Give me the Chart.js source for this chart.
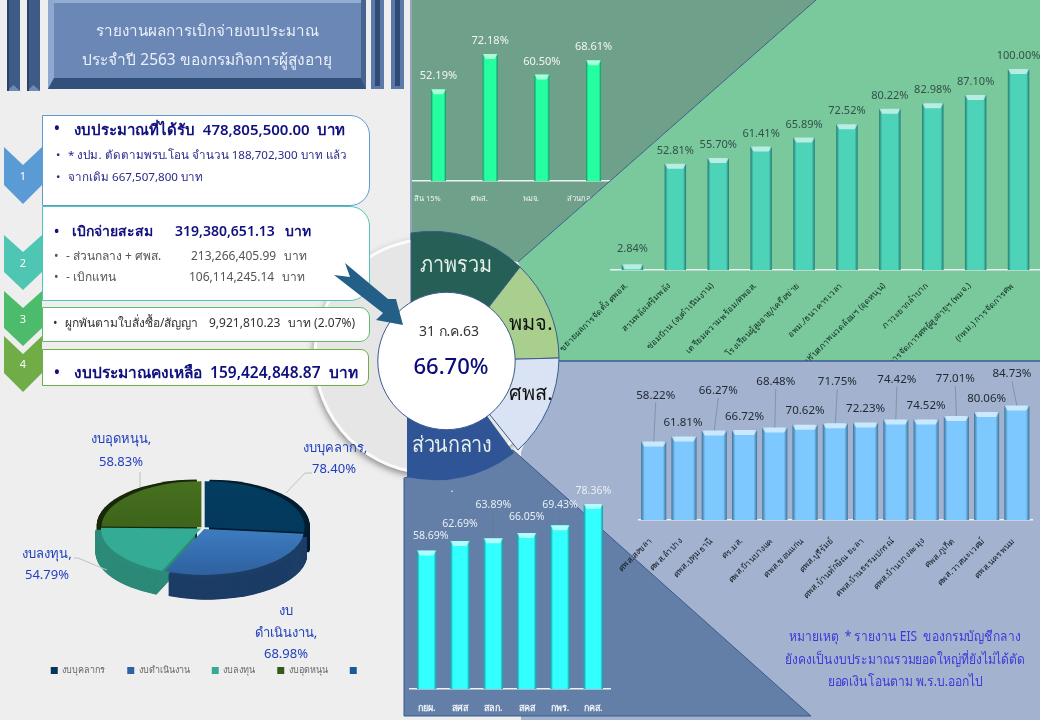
<!DOCTYPE html>
<html lang="th">
<head>
<meta charset="utf-8">
<title>รายงานผลการเบิกจ่ายงบประมาณ</title>
<script src="https://cdn.jsdelivr.net/npm/chart.js@4"></script>
<style>
html,body{margin:0;padding:0;background:#eeeeee;}
body{position:relative;width:1040px;height:720px;overflow:hidden;font-family:"Noto Sans",sans-serif;}
svg,canvas{position:absolute;left:0;top:0;}
.t{position:absolute;white-space:nowrap;transform:translateY(-50%);line-height:1;}
.c{transform:translate(-50%,-50%);}
.card{position:absolute;background:#fff;box-sizing:border-box;border:1px solid;border-left-width:1px;}
.big{font-size:15.5px;font-weight:600;color:#10107e;}
.mid{font-size:14px;font-weight:600;color:#10107e;}
.sm{font-size:11.6px;color:#2a2a8a;}
.gr{font-size:12px;color:#555;}
.note{font-size:14px;color:#3a3ad8;transform:translate(-50%,-50%) scaleX(.86);}
.hub{font-size:22px;color:#e7f0ea;transform:translate(-50%,-50%) scaleX(.9);}
</style>
</head>
<body>

<svg width="1040" height="720">
  <defs><filter id="ringShadow" x="-20%" y="-20%" width="140%" height="140%"><feDropShadow dx="-1" dy="3" stdDeviation="3" flood-color="#555" flood-opacity=".6"/></filter></defs>
  <circle cx="432" cy="356" r="117" fill="#e6e6e6" stroke="#fbfbfb" stroke-width="3" filter="url(#ringShadow)"/>
  <polygon points="412,0 816,0 518,262 412,240" fill="#6fa08a"/>
  <line x1="411" y1="0" x2="411" y2="240" stroke="#3b5b8c"/>
  <!-- title block -->
  <g>
    <rect x="7" y="0" width="13" height="91" fill="#3e5b88"/><polygon points="7,91 20,91 13.5,85" fill="#6f8ab4"/><rect x="7" y="0" width="2" height="91" fill="#2a4266"/>
    <rect x="27" y="0" width="13" height="91" fill="#3e5b88"/><polygon points="27,91 40,91 33.5,85" fill="#6f8ab4"/><rect x="27" y="0" width="2" height="91" fill="#2a4266"/>
    <rect x="371" y="0" width="13" height="89" fill="#5a78a8"/><rect x="375" y="0" width="5" height="86" fill="#2f4a74"/>
    <rect x="391" y="0" width="13" height="89" fill="#5a78a8"/><rect x="395" y="0" width="5" height="86" fill="#2f4a74"/>
    <rect x="48" y="0" width="318" height="89" fill="#6b87b5"/>
    <polygon points="48,0 54,0 54,78 48,89" fill="#8fa8cf"/>
    <polygon points="366,0 361,0 361,78 366,89" fill="#46648f"/>
    <polygon points="48,89 54,78 361,78 366,89" fill="#33507c"/>
    <rect x="54" y="0" width="307" height="3" fill="#96add2"/>
  </g>
</svg>

<canvas id="overallChart" width="1040" height="720"></canvas>

<svg width="1040" height="720">
  <polygon points="816,0 1040,0 1040,361 559,361 518,262" fill="#79c99c"/>
  <line x1="816" y1="0" x2="518" y2="262" stroke="#3b5b8c"/>
</svg>

<canvas id="projectChart" width="1040" height="720"></canvas>

<svg width="1040" height="720">
  <polygon points="559,361 1040,361 1040,720 521,720 521,452" fill="#a3b3cf"/>
  <line x1="559" y1="361" x2="1040" y2="361" stroke="#3b5b8c" stroke-width="1.5"/>
  <polygon points="404,478 404,716 811,716 513,450" fill="#637fa8" stroke="#3b5b8c"/>
</svg>

<canvas id="centerChart" width="1040" height="720"></canvas>
<canvas id="shelterChart" width="1040" height="720"></canvas>
<canvas id="pieChart" width="412" height="285" style="top:400px"></canvas>

<svg width="1040" height="720">
  <!-- chevrons -->
  <polygon points="4,147 23,165 42,147 42,185 23,204 4,185" fill="#5b9bd5"/>
  <polygon points="4,235 23,252 42,235 42,272 23,290 4,272" fill="#4fc6b3"/>
  <polygon points="4,291 23,308 42,291 42,328 23,346 4,328" fill="#4cbb6b"/>
  <polygon points="4,336 23,354 42,336 42,373 23,392 4,373" fill="#70ad47"/>
  <!-- hub -->
  <path d="M411,233 A127,127 0 0 1 520,267 L447,361 L411,361 Z" fill="#265f55" stroke="#3b5b8c"/>
  <path d="M520,267 A127,127 0 0 1 559,358 L447,361 Z" fill="#a8cf8e" stroke="#3b5b8c"/>
  <path d="M559,358 A127,127 0 0 1 518,450 L447,361 Z" fill="#dae3f3" stroke="#3b5b8c"/>
  <path d="M514,453 A127,127 0 0 1 407,477 L407,361 L447,361 Z" fill="#2f5597"/>
</svg>

<div class="card" style="left:42px;top:115px;width:328px;height:91px;border-color:#5b9bd5;border-radius:0 20px 20px 0"></div>
<div class="card" style="left:42px;top:206px;width:328px;height:95px;border-color:#4fc6b3;border-radius:0 20px 20px 0"></div>
<div class="card" style="left:42px;top:307px;width:328px;height:35px;border-color:#5ebc6a;border-radius:0 10px 10px 0"></div>
<div class="card" style="left:42px;top:349px;width:327px;height:37px;border-color:#70ad47;border-radius:0 8px 8px 0"></div>

<svg width="1040" height="720">
  <circle cx="446.5" cy="361" r="68.7" fill="#fff" stroke="#3b5b8c"/>
  <polygon points="345,263 388,299 396,299 403,325 376,320 383,313 334,275 350,277" fill="#235f86"/>
</svg>

<span class="t c" style="left:23px;top:175px;font-size:11px;color:#fff">1</span>
<span class="t c" style="left:23px;top:262px;font-size:11px;color:#fff">2</span>
<span class="t c" style="left:23px;top:318px;font-size:11px;color:#fff">3</span>
<span class="t c" style="left:23px;top:363px;font-size:11px;color:#fff">4</span>

<span class="t c" style="left:207px;top:31px;font-size:15.2px;color:#eaf0fa">รายงานผลการเบิกจ่ายงบประมาณ</span>
<span class="t c" style="left:207px;top:60px;font-size:15.5px;color:#eaf0fa">ประจำปี 2563 ของกรมกิจการผู้สูงอายุ</span>

<span class="t big" style="left:54px;top:129px">•</span>
<span class="t big" style="left:74px;top:129px;font-size:15px">งบประมาณที่ได้รับ &nbsp;478,805,500.00 &nbsp;บาท</span>
<span class="t sm" style="left:56px;top:155px">•</span>
<span class="t sm" style="left:68px;top:155px">* งปม. ตัดตามพรบ.โอน จำนวน 188,702,300 บาท แล้ว</span>
<span class="t sm" style="left:56px;top:177px">•</span>
<span class="t sm" style="left:68px;top:177px">จากเดิม 667,507,800 บาท</span>

<span class="t mid" style="left:54px;top:231px">•</span>
<span class="t mid" style="left:72px;top:231px">เบิกจ่ายสะสม</span>
<span class="t mid" style="left:175px;top:231px">319,380,651.13</span>
<span class="t mid" style="left:285px;top:231px">บาท</span>
<span class="t gr" style="left:54px;top:256px">•</span>
<span class="t gr" style="left:66px;top:256px">- ส่วนกลาง + ศพส.</span>
<span class="t gr" style="left:191px;top:256px">213,266,405.99</span>
<span class="t gr" style="left:284px;top:256px">บาท</span>
<span class="t gr" style="left:54px;top:277px">•</span>
<span class="t gr" style="left:66px;top:277px">- เบิกแทน</span>
<span class="t gr" style="left:189px;top:277px">106,114,245.14</span>
<span class="t gr" style="left:282px;top:277px">บาท</span>

<span class="t gr" style="left:53px;top:323px;color:#333">•</span>
<span class="t gr" style="left:65px;top:323px;color:#333">ผูกพันตามใบสั่งซื้อ/สัญญา</span>
<span class="t gr" style="left:209px;top:323px;color:#333">9,921,810.23</span>
<span class="t gr" style="left:288px;top:323px;color:#333">บาท (2.07%)</span>

<span class="t big" style="left:54px;top:373px">•</span>
<span class="t big" style="left:74px;top:373px">งบประมาณคงเหลือ &nbsp;159,424,848.87 &nbsp;บาท</span>

<span class="t hub" style="left:456px;top:263px">ภาพรวม</span>
<span class="t c" style="left:531px;top:323px;font-size:20px;color:#111">พมจ.</span>
<span class="t c" style="left:531px;top:393px;font-size:20px;color:#111">ศพส.</span>
<span class="t hub" style="left:452px;top:443px">ส่วนกลาง</span>
<span class="t c" style="left:452px;top:487px;font-size:11px;color:#fff">.</span>

<span class="t c" style="left:449px;top:331px;font-size:14px;color:#333">31 ก.ค.63</span>
<span class="t c" style="left:451px;top:365px;font-size:22px;font-weight:500;color:#0a0a7a">66.70%</span>

<span class="t note" style="left:905px;top:636px">หมายเหตุ &nbsp;* รายงาน EIS &nbsp;ของกรมบัญชีกลาง</span>
<span class="t note" style="left:905px;top:659px">ยังคงเป็นงบประมาณรวมยอดใหญ่ที่ยังไม่ได้ตัด</span>
<span class="t note" style="left:905px;top:681px">ยอดเงินโอนตาม พ.ร.บ.ออกไป</span>

<script>
const overallLabels = ['สิน 15%', 'ศพส.', 'พมจ.', 'ส่วนกลาง'];
const overallValues = [52.19, 72.18, 60.50, 68.61];

const projectLabels = ['ขยายผลการจัดตั้ง ศพอส.', 'สานพลังเสริมพลัง', 'ซ่อมบ้าน (งบดำเนินงาน)', 'เตรียมความพร้อม/ศพอส.',
    'โรงเรียนผู้สูงอายุ/เครือข่าย', 'อพม./ธนาคารเวลา', 'ปรับสภาพแวดล้อมฯ (อุดหนุน)', 'ภาวะยากลำบาก',
    'การจัดการศพผู้สูงอายุฯ (พมจ.)', '(กทม.) การจัดการศพ'];
const projectValues = [2.84, 52.81, 55.70, 61.41, 65.89, 72.52, 80.22, 82.98, 87.10, 100.00];

const centerLabels = ['กยผ.', 'สศส', 'สลก.', 'สคส', 'กพร.', 'กคส.'];
const centerValues = [58.69, 62.69, 63.89, 66.05, 69.43, 78.36];

const shelterLabels = ['ศพส.สงขลา', 'ศพส.ลำปาง', 'ศพส.ปทุมธานี', 'ศร.มส.', 'ศพส.บ้านบางแค', 'ศพส.ขอนแก่น', 'ศพส.บุรีรัมย์',
    'ศพส.บ้านทักษิณ ยะลา', 'ศพส.บ้านธรรมปกรณ์', 'ศพส.บ้านบางละมุง', 'ศพส.ภูเก็ต', 'ศพส.วาสนะเวศม์', 'ศพส.นครพนม'];
const shelterValues = [58.22, 61.81, 66.27, 66.72, 68.48, 70.62, 71.75, 72.23, 74.42, 74.52, 77.01, 80.06, 84.73];

const pieLabels = ['งบบุคลากร', 'งบดำเนินงาน', 'งบลงทุน', 'งบอุดหนุน', ''];
// printed percentages are per-category rates, not shares, so the slice sizes are read off the slices
const piePercents = [78.40, 68.98, 54.79, 58.83];
const pieShares = [26.7, 29.7, 18.9, 24.7, 0];

Chart.defaults.font.family = '"Noto Sans", sans-serif';
Chart.defaults.animation = false;

// little extruded look on every bar
const bevelBars = {
    id: 'bevelBars',
    afterDatasetDraw(chart, args, opts) {
        const ctx = chart.ctx;
        chart.getDatasetMeta(args.index).data.forEach(el => {
            const l = el.x - el.width / 2, r = el.x + el.width / 2;
            const h = Math.min(5, el.base - el.y);
            let g = ctx.createLinearGradient(l, 0, r, 0);
            g.addColorStop(0, 'rgba(0,30,50,.5)');
            g.addColorStop(.14, 'rgba(0,30,50,0)');
            g.addColorStop(.86, 'rgba(0,30,50,0)');
            g.addColorStop(1, 'rgba(0,30,50,.5)');
            ctx.fillStyle = g;
            ctx.fillRect(l, el.y, r - l, el.base - el.y);
            ctx.fillStyle = opts.cap || 'rgba(255,255,255,.6)';
            ctx.beginPath();
            ctx.moveTo(l, el.y);
            ctx.lineTo(r, el.y);
            ctx.lineTo(r - 3, el.y + h);
            ctx.lineTo(l + 3, el.y + h);
            ctx.closePath();
            ctx.fill();
        });
    }
};

// value labels above the bars, with a thin leader when the label is lifted far
const valueTags = {
    id: 'valueTags',
    afterDatasetsDraw(chart, args, opts) {
        const ctx = chart.ctx;
        const values = chart.data.datasets[0].data;
        ctx.save();
        ctx.font = opts.font;
        ctx.textAlign = 'center';
        ctx.textBaseline = 'middle';
        chart.getDatasetMeta(0).data.forEach((el, i) => {
            const lift = opts.lifts ? opts.lifts[i] : 13;
            const dx = opts.shifts ? opts.shifts[i] : 0;
            if (lift > 18) {
                ctx.strokeStyle = 'rgba(110,120,130,.55)';
                ctx.beginPath();
                ctx.moveTo(el.x, el.y);
                ctx.lineTo(el.x + dx, el.y - lift + 7);
                ctx.stroke();
            }
            ctx.fillStyle = opts.color;
            ctx.fillText(values[i].toFixed(2) + '%', el.x + dx, el.y - lift);
        });
        ctx.restore();
    }
};

function barChart(id, labels, values, box) {
    return new Chart(document.getElementById(id), {
        type: 'bar',
        plugins: [bevelBars, valueTags],
        data: {
            labels: labels,
            datasets: [{
                data: values,
                backgroundColor: box.fill,
                barPercentage: box.barWidth,
                categoryPercentage: 1
            }]
        },
        options: {
            responsive: false,
            layout: {
                autoPadding: false,
                padding: { left: box.left, right: 1040 - box.right, top: box.top, bottom: 0 }
            },
            scales: {
                y: { display: false, min: 0, max: 100 },
                x: {
                    afterFit(scale) { scale.height = 720 - box.base; },
                    grid: { display: false },
                    border: { display: true, color: '#eef2f4', width: 1.5 },
                    ticks: {
                        autoSkip: false,
                        color: box.tickColor,
                        font: { size: box.tickSize, weight: box.tickWeight || 'normal' },
                        minRotation: box.rotate || 0,
                        maxRotation: box.rotate || 0,
                        padding: box.tickPad,
                        labelOffset: box.tickShift || 0
                    }
                }
            },
            plugins: {
                legend: { display: false },
                tooltip: { enabled: false },
                bevelBars: {},
                valueTags: { font: box.tagFont, color: box.tagColor, lifts: box.lifts, shifts: box.shifts }
            }
        }
    });
}

barChart('overallChart', overallLabels, overallValues, {
    left: 412.6, right: 619.4, top: 5, base: 181, barWidth: .29,
    fill: '#25ff9f', tickColor: '#f2f6f2', tickSize: 7.5, tickPad: 5, tickShift: -11,
    tagFont: '11px "Noto Sans"', tagColor: '#f2f6f2'
});

barChart('projectChart', projectLabels, projectValues, {
    left: 611, right: 1040.8, top: 69, base: 270, barWidth: .5, rotate: 45,
    fill: '#4cd3b8', tickColor: '#10291f', tickSize: 8.5, tickPad: 3, tickShift: -6,
    tagFont: '11px "Noto Sans"', tagColor: '#33514a',
    lifts: [15, 13, 13, 13, 13, 13, 13, 13, 13, 13]
});

barChart('centerChart', centerLabels, centerValues, {
    left: 410, right: 610, top: 453, base: 689, barWidth: .58,
    fill: '#33ffff', tickColor: '#eef4f8', tickSize: 9, tickWeight: 'bold', tickPad: 6.5,
    tagFont: '10.5px "Noto Sans"', tagColor: '#e9f0f4',
    lifts: [14, 17, 33, 16, 20, 13],
    shifts: [4, 0, 0, 0, 0, 0]
});

barChart('shelterChart', shelterLabels, shelterValues, {
    left: 638.6, right: 1032, top: 385, base: 520, barWidth: .83, rotate: 45,
    fill: '#7cc8ff', tickColor: '#101820', tickSize: 8.5, tickPad: 8, tickShift: -3,
    tagFont: '11.5px "Noto Sans"', tagColor: '#222a33',
    lifts: [46, 14, 39.5, 13, 45.6, 14, 41, 13.5, 39.5, 13.4, 37, 13, 31.6],
    shifts: [2, -1, 4, 0, 1, 0, 2, 0, 1, 0, -1, 0, -5]
});

// pie: squashed and extruded with a plugin, arcs stay the library's own
const pieCanvas = document.getElementById('pieChart');
const pieCtx = pieCanvas.getContext('2d');
function pieGrad(a, b) {
    const g = pieCtx.createLinearGradient(0, 24, 0, 224);
    g.addColorStop(0, a);
    g.addColorStop(1, b);
    return g;
}
const pieTilt = 0.46, pieDepth = 48;
const pieSides = ['#021c30', '#1c3d66', '#2c8a78', '#18290a'];
const pieDrawOrder = [0, 3, 2, 1];

const tiltPie = {
    id: 'tiltPie',
    beforeDatasetDraw(chart, args) {
        const ctx = chart.ctx;
        const arcs = chart.getDatasetMeta(args.index).data;
        const cx = arcs[0].x, cy = arcs[0].y;
        ctx.save();
        ctx.translate(-3, 0);
        ctx.translate(cx, cy);
        ctx.scale(1, pieTilt);
        ctx.translate(-cx, -cy);
        pieDrawOrder.forEach(i => {
            const a = arcs[i];
            const mid = (a.startAngle + a.endAngle) / 2;
            const ox = Math.cos(mid) * a.options.offset, oy = Math.sin(mid) * a.options.offset;
            ctx.fillStyle = pieSides[i];
            for (let d = pieDepth; d > 0; d -= 1) {
                ctx.beginPath();
                ctx.moveTo(a.x + ox, a.y + oy + d);
                ctx.arc(a.x + ox, a.y + oy + d, a.outerRadius, a.startAngle, a.endAngle);
                ctx.closePath();
                ctx.fill();
            }
        });
    },
    afterDatasetDraw(chart) {
        chart.ctx.restore();
    },
    afterDraw(chart) {
        const ctx = chart.ctx;
        ctx.save();
        ctx.strokeStyle = '#b9c1c9';
        [[[286, 93], [305, 73], [312, 73]], [[140, 72], [140, 87]], [[74, 158], [78, 158], [107, 170]]].forEach(line => {
            ctx.beginPath();
            line.forEach((p, i) => i ? ctx.lineTo(p[0], p[1]) : ctx.moveTo(p[0], p[1]));
            ctx.stroke();
        });
        ctx.fillStyle = '#1f3fbf';
        ctx.font = '13px "Noto Sans"';
        ctx.textAlign = 'center';
        ctx.textBaseline = 'middle';
        ctx.fillText(pieLabels[0] + ',', 335, 48);
        ctx.fillText(piePercents[0].toFixed(2) + '%', 334, 69);
        ctx.fillText('งบ', 286, 211);
        ctx.fillText('ดำเนินงาน,', 286, 233);
        ctx.fillText(piePercents[1].toFixed(2) + '%', 286, 254);
        ctx.fillText(pieLabels[2] + ',', 47, 154);
        ctx.fillText(piePercents[2].toFixed(2) + '%', 47, 175);
        ctx.fillText(pieLabels[3] + ',', 121, 39);
        ctx.fillText(piePercents[3].toFixed(2) + '%', 121, 62);
        ctx.restore();
    }
};

new Chart(pieCanvas, {
    type: 'pie',
    plugins: [tiltPie],
    data: {
        labels: pieLabels,
        datasets: [{
            data: pieShares,
            backgroundColor: [pieGrad('#033d60', '#03365a'), pieGrad('#4c98e4', '#2f62a0'),
                pieGrad('#33ab95', '#33ab95'), pieGrad('#47701f', '#345a17'), '#1a5a96'],
            borderWidth: 0,
            offset: 9
        }]
    },
    options: {
        responsive: false,
        radius: 100,
        layout: { padding: { top: 12 } },
        plugins: {
            tooltip: { enabled: false },
            legend: {
                position: 'bottom',
                labels: { boxWidth: 7, boxHeight: 7, padding: 22, color: '#666', font: { size: 9 } }
            }
        }
    }
});
</script>
</body>
</html>
